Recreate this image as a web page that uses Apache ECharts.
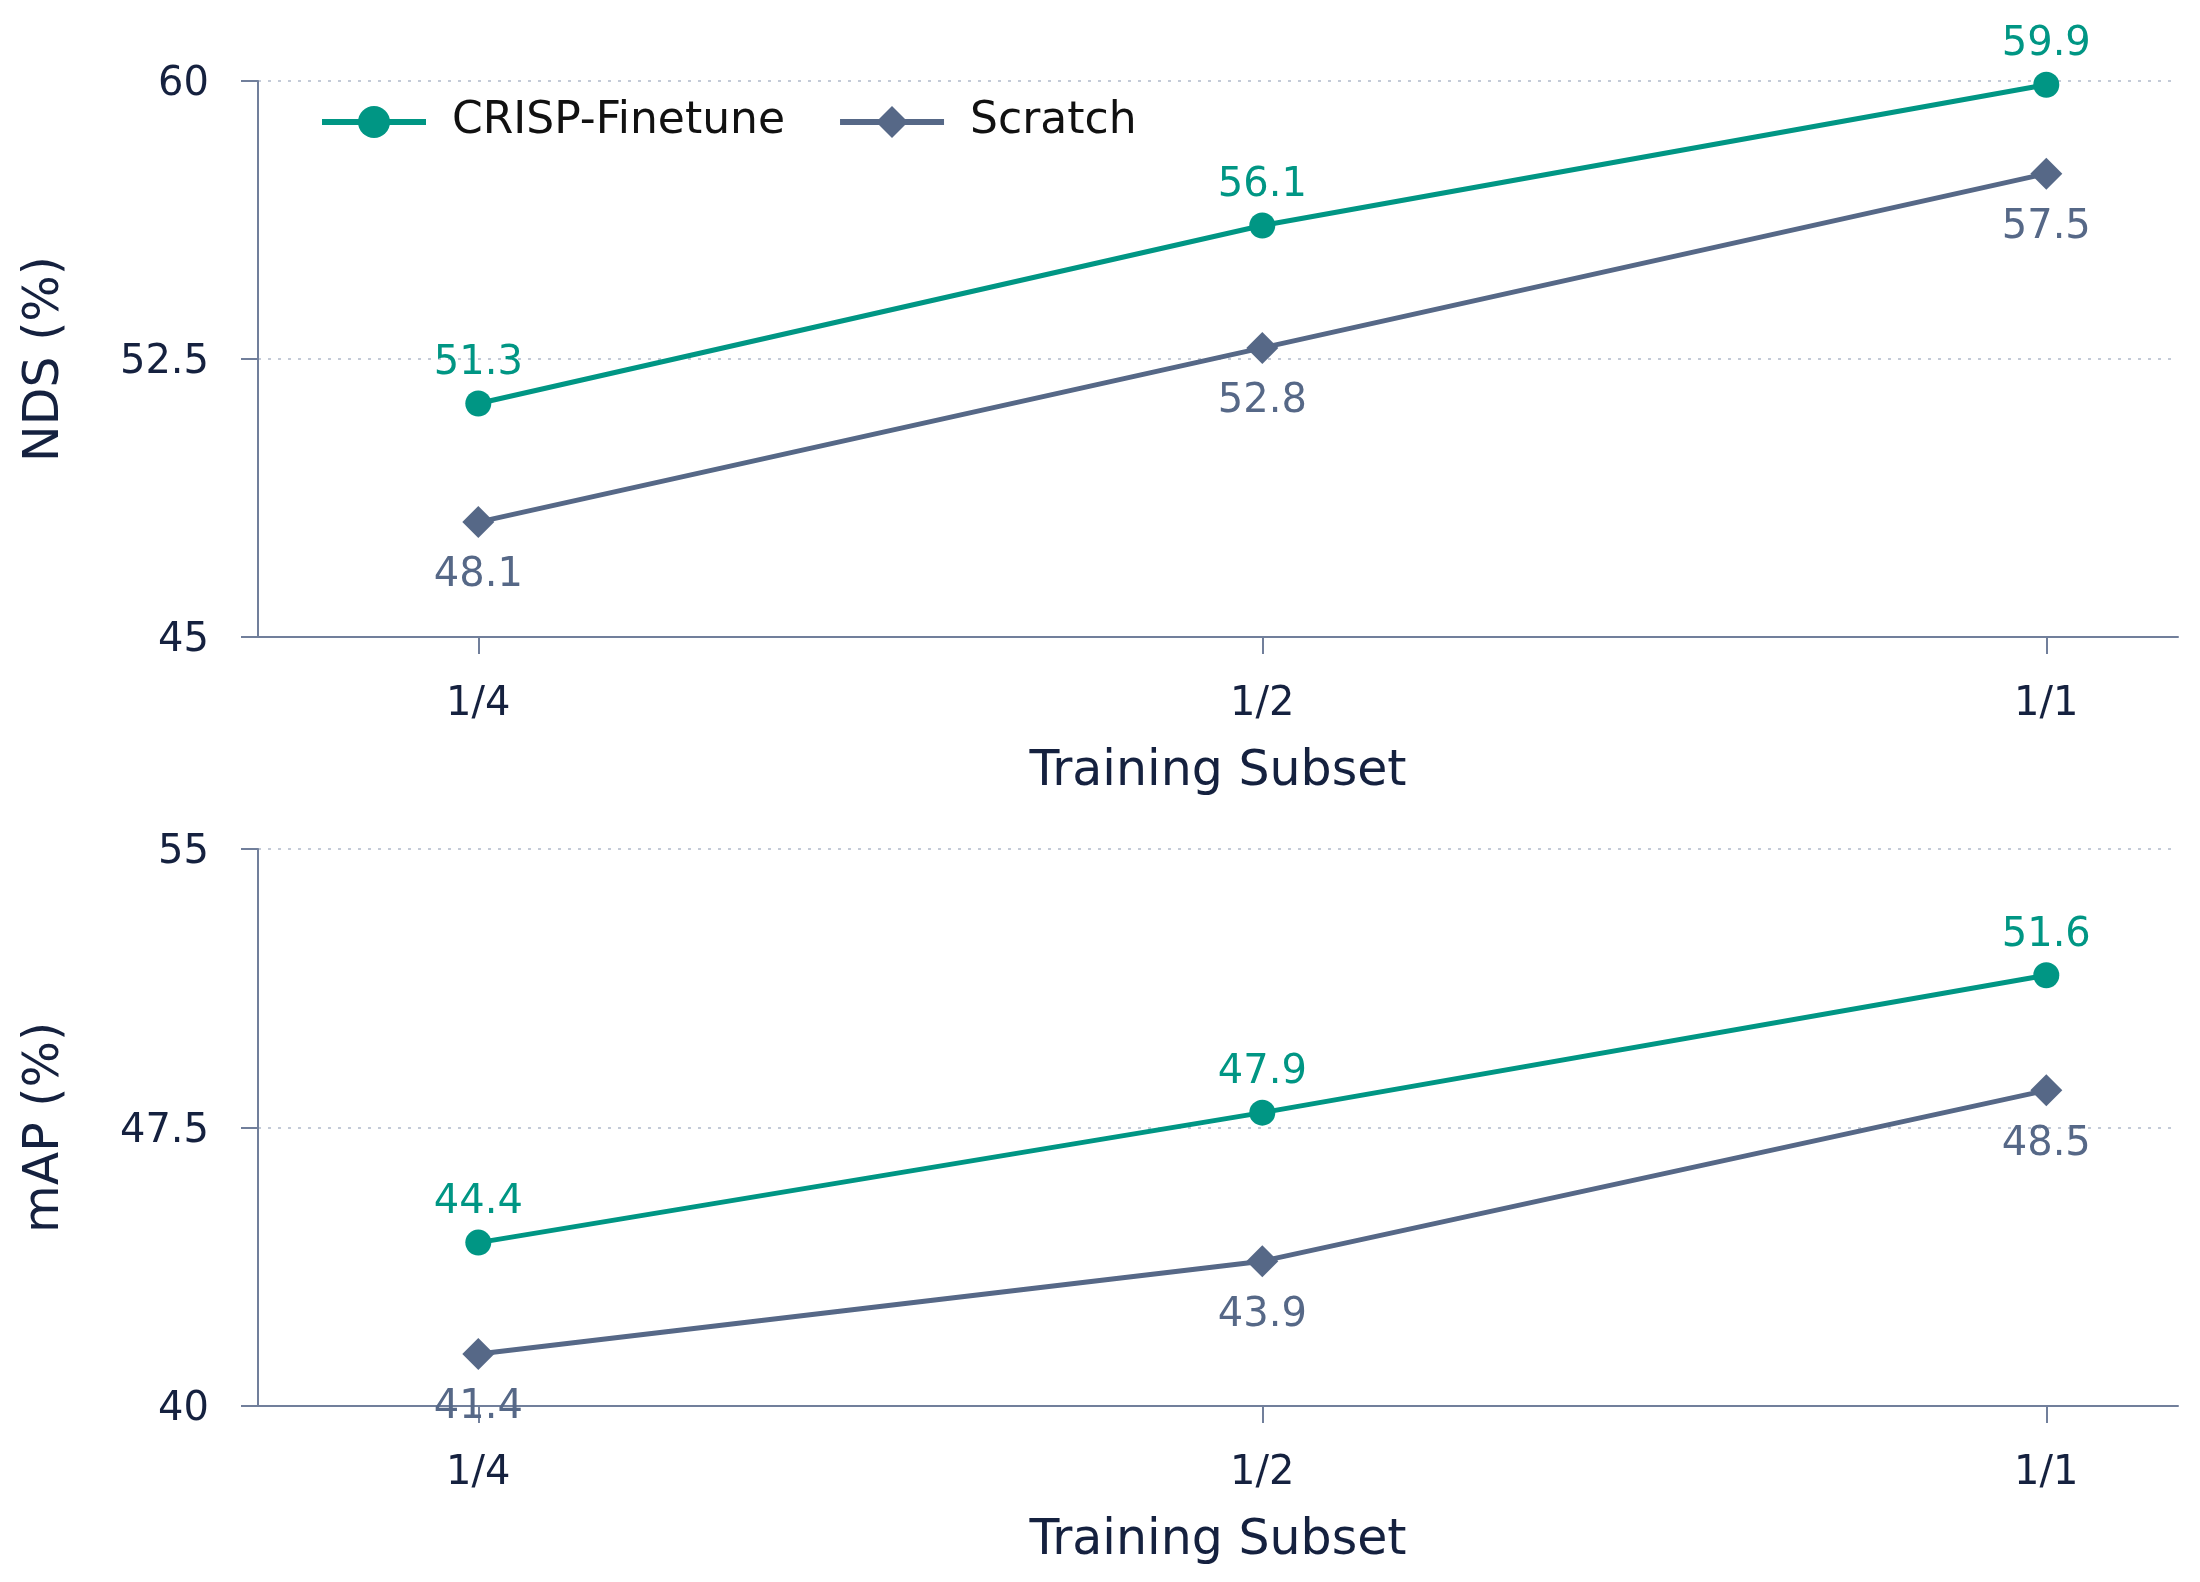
<!DOCTYPE html>
<html>
<head>
<meta charset="utf-8">
<script src="https://cdn.jsdelivr.net/npm/echarts@6/dist/echarts.min.js"></script>
<style>
  html, body { margin: 0; padding: 0; background: #fff; }
  #chart { width: 2200px; height: 1582px; }
</style>
</head>
<body>
<div id="chart"></div>
<script>
// training subsets on the x axis
var subsets = ['1/4', '1/2', '1/1']
var ndsCrisp = [51.3, 56.1, 59.9]
var ndsScratch = [48.1, 52.8, 57.5]
var mapCrisp = [44.4, 47.9, 51.6]
var mapScratch = [41.4, 43.9, 48.5]
var ndsTicks = [45, 52.5, 60]
var mapTicks = [40, 47.5, 55]

var FONT = 'DejaVu Sans'
var TEAL = '#009684'
var SLATE = '#566887'
var AXIS = '#717f9b'
var NAVY = '#15213f'
var GRIDLINE = '#c3cad7'

function toPoints (vals) {
  return subsets.map(function (s, i) { return [i, vals[i]] })
}

function xAxisFor (g) {
  return {
    type: 'value',
    gridIndex: g,
    min: -0.281,
    max: 2.168,
    axisLine: { show: true, onZero: false, lineStyle: { color: AXIS, width: 2 } },
    axisTick: { show: true, customValues: [0, 1, 2], length: 17, lineStyle: { color: AXIS, width: 2 } },
    axisLabel: {
      customValues: [0, 1, 2],
      formatter: function (v) { return subsets[Math.round(v)] },
      margin: 48,
      fontSize: 40,
      fontFamily: FONT,
      color: NAVY
    },
    splitLine: { show: false },
    name: 'Training Subset',
    nameLocation: 'middle',
    nameGap: 111,
    nameTextStyle: { fontSize: 49, fontFamily: FONT, color: NAVY }
  }
}

function yAxisFor (g, ticks, name) {
  return {
    type: 'value',
    gridIndex: g,
    min: ticks[0],
    max: ticks[ticks.length - 1],
    axisLine: { show: true, onZero: false, lineStyle: { color: AXIS, width: 2 } },
    axisTick: { show: true, customValues: ticks, length: 17, lineStyle: { color: AXIS, width: 2 } },
    axisLabel: {
      customValues: ticks,
      formatter: function (v) { return String(v) },
      margin: 49,
      verticalAlign: 'top',
      lineHeight: 8,
      fontSize: 40,
      fontFamily: FONT,
      color: NAVY
    },
    splitLine: { show: true, lineStyle: { color: GRIDLINE, width: 2, type: [3, 7] } },
    name: name,
    nameLocation: 'middle',
    nameGap: 188,
    nameTextStyle: { fontSize: 49, fontFamily: FONT, color: NAVY }
  }
}

function lineSeries (name, g, vals, isCrisp) {
  var color = isCrisp ? TEAL : SLATE
  return {
    name: name,
    type: 'line',
    xAxisIndex: g,
    yAxisIndex: g,
    data: toPoints(vals),
    symbol: isCrisp ? 'circle' : 'diamond',
    symbolSize: isCrisp ? 26 : 32,
    lineStyle: { color: color, width: 5 },
    itemStyle: { color: color },
    z: isCrisp ? 3 : 2,
    label: {
      show: true,
      position: isCrisp ? 'top' : 'bottom',
      distance: isCrisp ? 7 : 18,
      fontSize: 40,
      fontFamily: FONT,
      color: color,
      formatter: function (p) { return p.value[1].toFixed(1) }
    }
  }
}

var chart = echarts.init(document.getElementById('chart'))
chart.setOption({
  animation: false,
  backgroundColor: '#fff',
  textStyle: { fontFamily: FONT },
  grid: [
    { left: 258, right: 22, top: 81, height: 556 },
    { left: 258, right: 22, top: 849, height: 557 }
  ],
  legend: {
    left: 314,
    top: 95,
    itemWidth: 104,
    itemHeight: 40,
    itemGap: 52,
    data: ['CRISP-Finetune', 'Scratch'],
    lineStyle: { width: 6 },
    textStyle: { fontSize: 44, fontFamily: FONT, color: '#111', padding: [0, 0, 0, 21] }
  },
  xAxis: [xAxisFor(0), xAxisFor(1)],
  yAxis: [yAxisFor(0, ndsTicks, 'NDS (%)'), yAxisFor(1, mapTicks, 'mAP (%)')],
  series: [
    lineSeries('CRISP-Finetune', 0, ndsCrisp, true),
    lineSeries('Scratch', 0, ndsScratch, false),
    lineSeries('CRISP-Finetune', 1, mapCrisp, true),
    lineSeries('Scratch', 1, mapScratch, false)
  ]
})
</script>
</body>
</html>
